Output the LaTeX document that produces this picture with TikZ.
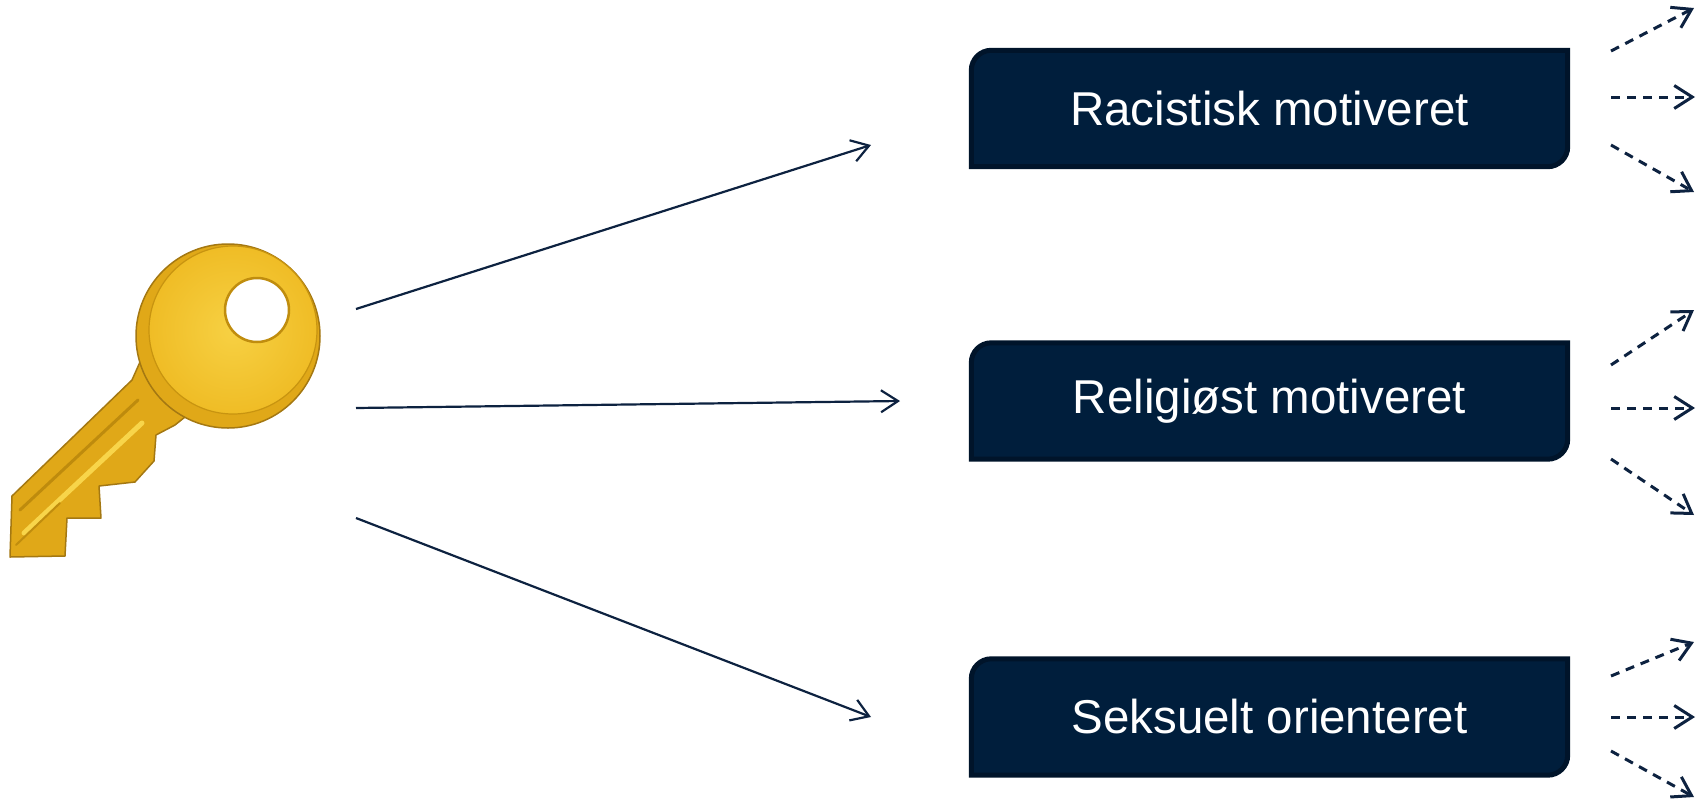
\documentclass[tikz,border=0pt]{standalone}
\usepackage{fontspec}
\setmainfont{Liberation Sans}
\usetikzlibrary{arrows.meta,backgrounds}
\definecolor{boxfill}{HTML}{001E3C}
\definecolor{boxedge}{HTML}{00142A}
\definecolor{arrowcol}{HTML}{0D2240}
\definecolor{golddark}{HTML}{B8860B}
\definecolor{goldmid}{HTML}{E0A818}
\definecolor{goldlight}{HTML}{F2C028}
\definecolor{goldhi}{HTML}{F8D54A}
\definecolor{goldedge}{HTML}{A47812}
\tikzset{
  box/.style={minimum width=596pt, minimum height=116pt, inner sep=0pt,
    text=white, font=\fontsize{47.5}{57}\selectfont},
  boxshape/.style={fill=boxfill, draw=boxedge, line width=5pt},
  solidarrow/.style={draw=arrowcol, line width=2.2pt,
    -{Straight Barb[length=17pt,width=22pt]}},
  dasharrow/.style={draw=arrowcol, line width=3pt, dash pattern=on 9pt off 7pt,
    -{Straight Barb[length=18pt,width=23pt]}}
}
\newcommand{\boxoutline}[1]{%
  \path[boxshape] (#1.south west)
    -- ([yshift=-20pt]#1.north west) to[out=90,in=180] ([xshift=20pt]#1.north west)
    -- (#1.north east)
    -- ([yshift=20pt]#1.south east) to[out=-90,in=0] ([xshift=-20pt]#1.south east)
    -- cycle;}
\begin{document}
\begin{tikzpicture}[x=1pt,y=-1pt]
\useasboundingbox (0,0) rectangle (1698,801);
% ---------- key ----------
\node[inner sep=0pt, minimum width=320pt, minimum height=320pt] (key) at (165,400) {};
\begin{scope}[line join=round]
  % shaft with teeth
  \path[fill=goldmid, draw=goldedge, line width=1.5pt]
    (140,362) -- (132,380) -- (12,496) -- (10,557) -- (65,556) -- (67,518)
    -- (101,518) -- (99,486) -- (135,482) -- (154,461) -- (156,435)
    -- (175,425) -- (200,405) -- (160,355) -- cycle;
  % grooves
  \draw[golddark!85!goldmid, line width=3pt, line cap=round] (20,510) -- (138,400);
  \draw[goldhi, line width=5pt, line cap=round] (24,533) -- (142,423);
  \draw[golddark!80!goldmid, line width=2pt, line cap=round] (16,545) -- (60,503);
  % head
  \path[fill=goldmid, draw=goldedge, line width=1.5pt] (228,336) circle[radius=92pt];
  \path[inner color=goldhi!80!goldlight, outer color=goldlight!85!goldmid] (233,330) circle[radius=84pt];
  \draw[golddark!60!goldmid, line width=1.2pt] (233,330) circle[radius=84pt];
  % hole
  \path[fill=white, draw=golddark!80!goldmid, line width=2.5pt] (257,310) circle[radius=32pt];
\end{scope}
% ---------- boxes ----------
\node[box] (b1) at (1269.5,108.5) {Racistisk motiveret};
\node[box] (b2) at (1269.5,401) {Religiøst motiveret};
\node[box] (b3) at (1269.5,717) {Seksuelt orienteret};
\begin{scope}[on background layer]
  \boxoutline{b1}
  \boxoutline{b2}
  \boxoutline{b3}
\end{scope}
% ---------- solid connectors ----------
\coordinate (k1) at (356,309);
\coordinate (k2) at (356,408);
\coordinate (k3) at (356,518);
\coordinate (t1) at (871,145);
\coordinate (t2) at (900,401);
\coordinate (t3) at (871,717);
\draw[solidarrow] (k1) -- (t1);
\draw[solidarrow] (k2) -- (t2);
\draw[solidarrow] (k3) -- (t3);
% ---------- dashed connectors ----------
\coordinate (s1a) at (1611,51);  \coordinate (e1a) at (1694,8);
\coordinate (s1b) at (1611,97);  \coordinate (e1b) at (1695,97);
\coordinate (s1c) at (1611,145); \coordinate (e1c) at (1694,192);
\coordinate (s2a) at (1611,365); \coordinate (e2a) at (1694,310);
\coordinate (s2b) at (1611,408); \coordinate (e2b) at (1695,408);
\coordinate (s2c) at (1611,459); \coordinate (e2c) at (1694,515);
\coordinate (s3a) at (1611,676); \coordinate (e3a) at (1694,642);
\coordinate (s3b) at (1611,717); \coordinate (e3b) at (1695,717);
\coordinate (s3c) at (1611,751); \coordinate (e3c) at (1694,797);
\foreach \r in {1,2,3}{
  \foreach \c in {a,b,c}{
    \draw[dasharrow] (s\r\c) -- (e\r\c);
  }
}
\end{tikzpicture}
\end{document}
